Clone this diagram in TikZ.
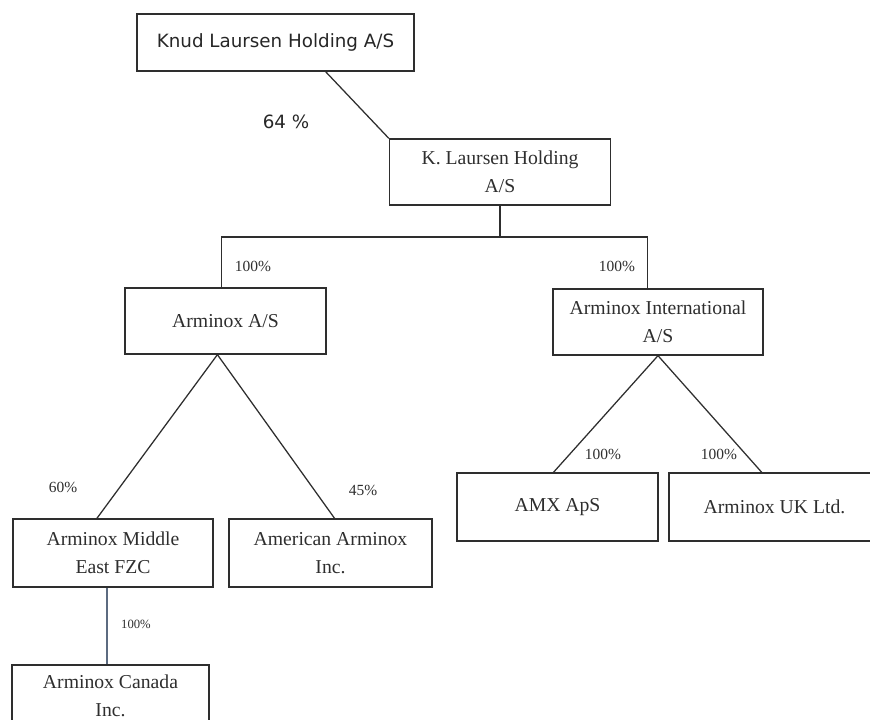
\documentclass[tikz,border=0pt]{standalone}
\usepackage{fontspec}
\setmainfont{Liberation Serif}
\newfontfamily\verdanalike{DejaVu Sans}
\usetikzlibrary{calc}

\definecolor{inkgray}{HTML}{2E2E2E}
\definecolor{slateline}{HTML}{5C6B80}

\tikzstyle{company}=[rectangle, draw=inkgray, line width=0.9pt, inner sep=0.1cm,
                     align=center, text=inkgray, font=\fontsize{14}{20}\selectfont]
\tikzstyle{share}=[inner sep=0pt, text=inkgray, font=\fontsize{11}{13}\selectfont]
\tikzstyle{owns}=[draw=inkgray, line width=0.9pt]

\begin{document}
\begin{tikzpicture}[x=0.025cm, y=-0.025cm]

\useasboundingbox (0,0) rectangle (870,719);
\clip (0,0) rectangle (870,719);

%%%%%%%%%%%%%%%%%%
%%%%%%%%%%%%%%%%%%
\node (Knud) at (275.5, 42.5) [company, minimum width=6.925cm, minimum height=1.425cm,
      text=black!85, font=\verdanalike\fontsize{13}{16}\selectfont] {Knud Laursen Holding A/S};

\node (KLH) at (500, 172) [company, minimum width=5.525cm, minimum height=1.65cm] {K. Laursen Holding\\A/S};

%%%%%%%%%%%%%%%%%%
\node (Arminox) at (225.5, 321) [company, minimum width=5.025cm, minimum height=1.65cm] {Arminox A/S};

\node (International) at (658, 322) [company, minimum width=5.25cm, minimum height=1.65cm] {Arminox International\\A/S};

%%%%%%%%%%%%%%%%%%
\node (MiddleEast) at (113, 553) [company, minimum width=5cm, minimum height=1.7cm] {Arminox Middle\\East FZC};

\node (American) at (330.5, 553) [company, minimum width=5.075cm, minimum height=1.7cm] {American Arminox\\Inc.};

\node (AMX) at (557.5, 507) [company, minimum width=5.025cm, minimum height=1.7cm] {AMX ApS};

\node (UK) at (774.5, 507) [company, minimum width=5.275cm, minimum height=1.7cm] {Arminox UK Ltd.};

%%%%%%%%%%%%%%%%%%
\node (Canada) at (110.5, 696) [company, minimum width=4.925cm, minimum height=1.55cm] {Arminox Canada\\Inc.};

%%%%%%%%%%%%%%%%%%%
\node (share_KLH) at (286, 122) [share, text=black!85, font=\verdanalike\fontsize{13}{16}\selectfont] {64 \%};

\node (share_Arminox) at (253, 266) [share] {100\%};

\node (share_International) at (617, 266) [share] {100\%};

\node (share_MiddleEast) at (63, 487) [share] {60\%};

\node (share_American) at (363, 490) [share] {45\%};

\node (share_AMX) at (603, 454) [share] {100\%};

\node (share_UK) at (719, 454) [share] {100\%};

\node (share_Canada) at (136, 624) [share, font=\fontsize{9}{11}\selectfont] {100\%};

%%%%%%%%%%%%%%%%%%%%
%%%%%%%%%%%%%%%%%%%%
\coordinate (bus) at (500, 237);

\coordinate (Knud_out) at ($(Knud.south west)!0.68!(Knud.south east)$);

\coordinate (Arminox_in) at ($(Arminox.north west)!0.48!(Arminox.north east)$);

\coordinate (International_in) at ($(International.north west)!0.45!(International.north east)$);

\coordinate (Arminox_out) at ($(Arminox.south west)!0.46!(Arminox.south east)$);

\coordinate (MiddleEast_in) at ($(MiddleEast.north west)!0.42!(MiddleEast.north east)$);

\coordinate (American_in) at ($(American.north west)!0.52!(American.north east)$);

\coordinate (AMX_in) at ($(AMX.north west)!0.48!(AMX.north east)$);

\coordinate (UK_in) at ($(UK.north west)!0.44!(UK.north east)$);

\coordinate (MiddleEast_out) at ($(MiddleEast.south west)!0.47!(MiddleEast.south east)$);

%%%%%%%%%%%%%%%%%%%%
\draw [owns] (Knud_out) to (KLH.north west);

\draw [owns] (KLH.south) to (KLH.south |- bus);

\draw [owns] (Arminox_in) -- (Arminox_in |- bus) -- (International_in |- bus) -- (International_in);

%%%%%%%%%%%%%%%%%%%%
\draw [owns] (Arminox_out) to (MiddleEast_in);

\draw [owns] (Arminox_out) to (American_in);

\draw [owns] (International.south) to (AMX_in);

\draw [owns] (International.south) to (UK_in);

%%%%%%%%%%%%%%%%%%%%
\draw [owns, draw=slateline] (MiddleEast_out) to (MiddleEast_out |- Canada.north);

\end{tikzpicture}
\end{document}
